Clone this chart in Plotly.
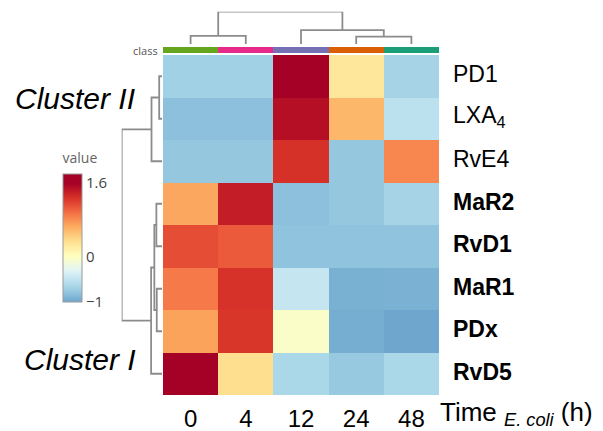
import plotly.graph_objects as go

# ---- data -------------------------------------------------------------
time_points = ["0", "4", "12", "24", "48"]
mediators = ["PD1", "LXA<sub>4</sub>", "RvE4", "<b>MaR2</b>", "<b>RvD1</b>",
             "<b>MaR1</b>", "<b>PDx</b>", "<b>RvD5</b>"]

# z-scored levels, one row per mediator, columns follow time_points
pd1 = [-0.70, -0.70, 1.60, 0.25, -0.67]
lxa4 = [-0.82, -0.82, 1.50, 0.58, -0.54]
rve4 = [-0.77, -0.77, 1.28, -0.77, 0.83]
mar2 = [0.67, 1.41, -0.82, -0.77, -0.67]
rvd1 = [1.12, 1.06, -0.80, -0.80, -0.80]
mar1 = [0.90, 1.27, -0.48, -0.93, -0.92]
pdx = [0.70, 1.25, -0.05, -0.95, -1.00]
rvd5 = [1.60, 0.32, -0.64, -0.76, -0.64]
values = [pd1, lxa4, rve4, mar2, rvd1, mar1, pdx, rvd5]

# hierarchical clustering (child a, child b, merge height); ids >= n are merged nodes
row_merges = [(0, 1, 0.07), (8, 2, 0.26), (3, 4, 0.14), (5, 6, 0.13),
              (10, 11, 0.19), (12, 7, 0.27), (9, 13, 1.0)]
col_merges = [(0, 1, 0.25), (3, 4, 0.23), (2, 6, 0.43), (5, 7, 1.0)]

class_colors = ["#66a61e", "#e7298a", "#7570b3", "#d95f02", "#1b9e77"]

# RdYlBu, blue to red
rdylbu_r = ["#313695", "#4575b4", "#74add1", "#abd9e9", "#e0f3f8", "#ffffbf",
            "#fee090", "#fdae61", "#f46d43", "#d73027", "#a50026"]

# colour limits: palette is symmetric over +/-SPAN, colour bar runs ZMIN..ZMAX
SPAN = 1.6
ZMIN, ZMAX = -1.0, 1.8
bar_ticks = [-1.0, 0.0, 1.6]
bar_labels = ["\u22121", "0", "1.6"]

# ---- helpers ------------------------------------------------------------
def dendro_segments(n_leaves, merges):
    pos = {i: float(i) for i in range(n_leaves)}
    hgt = {i: 0.0 for i in range(n_leaves)}
    segs = []
    for k, (a, b, h) in enumerate(merges):
        node = n_leaves + k
        segs.append(([pos[a], pos[a], pos[b], pos[b]], [hgt[a], h, h, hgt[b]]))
        pos[node] = (pos[a] + pos[b]) / 2
        hgt[node] = h
    return segs


def hex_rgb(h):
    h = h.lstrip("#")
    return [int(h[i:i + 2], 16) for i in (0, 2, 4)]


def interp(palette, t):
    t = min(max(t, 0.0), 1.0)
    f = t * (len(palette) - 1)
    i = min(int(f), len(palette) - 2)
    w = f - i
    a, b = hex_rgb(palette[i]), hex_rgb(palette[i + 1])
    c = [round(a[k] + (b[k] - a[k]) * w) for k in range(3)]
    return f"rgb({c[0]},{c[1]},{c[2]})"


n_stops = 29
heat_scale = []
for i in range(n_stops):
    v = ZMIN + (ZMAX - ZMIN) * i / (n_stops - 1)
    heat_scale.append([i / (n_stops - 1), interp(rdylbu_r, (v + SPAN) / (2 * SPAN))])

W, H = 603, 431
def px_x(p):
    return p / W
def px_y(p):
    return 1 - p / H

heat_x = [px_x(163), px_x(439)]
heat_y = [px_y(395), px_y(55)]
SANS = "Liberation Sans, Arial, sans-serif"

fig = go.Figure()

fig.add_trace(go.Heatmap(
    z=values, x=list(range(len(time_points))), y=list(range(len(mediators))),
    zmin=ZMIN, zmax=ZMAX, colorscale=heat_scale, xaxis="x", yaxis="y",
    hoverinfo="skip",
    colorbar=dict(
        x=px_x(63), xanchor="left", y=px_y(150), yanchor="top",
        len=(302 - 150) / H, lenmode="fraction", thickness=19,
        xpad=0, ypad=0, outlinewidth=1, outlinecolor="#9a9a9a",
        tickvals=bar_ticks, ticktext=bar_labels,
        ticks="", tickfont=dict(family="Open Sans", size=15, color="#444"),
        title=dict(text="value", side="top",
                   font=dict(family="Open Sans", size=14, color="#666")),
    ),
))

# class colour strip above the columns
fig.add_trace(go.Heatmap(
    z=[list(range(len(time_points)))], x=list(range(len(time_points))), y=[0],
    zmin=0, zmax=len(time_points) - 1, showscale=False, hoverinfo="skip",
    colorscale=[[i / (len(class_colors) - 1), c] for i, c in enumerate(class_colors)],
    xaxis="x2", yaxis="y2",
))

line_style = dict(color="#8c8c8c", width=1.8)

# column dendrogram
for xs, hs in dendro_segments(len(time_points), col_merges):
    fig.add_trace(go.Scatter(x=xs, y=hs, mode="lines", line=line_style,
                             xaxis="x3", yaxis="y3", hoverinfo="skip",
                             showlegend=False))

# row dendrogram
for ys, hs in dendro_segments(len(mediators), row_merges):
    fig.add_trace(go.Scatter(x=hs, y=ys, mode="lines", line=line_style,
                             xaxis="x4", yaxis="y4", hoverinfo="skip",
                             showlegend=False))

hidden = dict(showgrid=False, zeroline=False, showticklabels=False,
              ticks="", showline=False)
x_range = [-0.5, len(time_points) - 0.5]
y_range = [len(mediators) - 0.5, -0.5]

fig.update_layout(
    width=W, height=H, margin=dict(l=0, r=0, t=0, b=0),
    paper_bgcolor="white", plot_bgcolor="white", showlegend=False,
    font=dict(family=SANS, color="black"),
    xaxis=dict(domain=heat_x, range=x_range, showgrid=False, zeroline=False,
               tickvals=list(range(len(time_points))), ticktext=time_points,
               ticks="outside", ticklen=2, tickcolor="rgba(0,0,0,0)",
               tickfont=dict(family=SANS, size=24, color="black")),
    yaxis=dict(domain=heat_y, range=y_range, **hidden),
    xaxis2=dict(domain=heat_x, range=x_range, anchor="y2", **hidden),
    yaxis2=dict(domain=[px_y(53), px_y(47)], range=[-0.5, 0.5], anchor="x2", **hidden),
    xaxis3=dict(domain=heat_x, range=x_range, anchor="y3", **hidden),
    yaxis3=dict(domain=[px_y(44), px_y(11.7)], range=[0, 1.0], anchor="x3", **hidden),
    xaxis4=dict(domain=[px_x(121.7), px_x(162)], range=[1.0, 0], anchor="y4", **hidden),
    yaxis4=dict(domain=heat_y, range=y_range, anchor="x4", **hidden),
)

# mediator names to the right of the rows
for i, name in enumerate(mediators):
    fig.add_annotation(x=px_x(451), xref="paper", xanchor="left",
                       y=i, yref="y", yanchor="middle", text=name,
                       showarrow=False, yshift=2,
                       font=dict(family=SANS, size=23, color="black"))

fig.add_annotation(x=px_x(438), y=px_y(413), xref="paper", yref="paper",
                   xanchor="left", yanchor="middle", showarrow=False,
                   text="Time <sub><i>E. coli</i></sub> (h)",
                   font=dict(family=SANS, size=26, color="black"))

fig.add_annotation(x=px_x(160), y=px_y(50), xref="paper", yref="paper",
                   xanchor="right", yanchor="middle", showarrow=False,
                   text="class", font=dict(family="Open Sans", size=11, color="#555"))

fig.add_annotation(x=px_x(13), y=px_y(99), xref="paper", yref="paper",
                   xanchor="left", yanchor="middle", showarrow=False,
                   text="<i>Cluster II</i>",
                   font=dict(family=SANS, size=30, color="black"))
fig.add_annotation(x=px_x(138), y=px_y(359), xref="paper", yref="paper",
                   xanchor="right", yanchor="middle", showarrow=False,
                   text="<i>Cluster I</i>",
                   font=dict(family=SANS, size=30, color="black"))

fig.write_html("out.html")
